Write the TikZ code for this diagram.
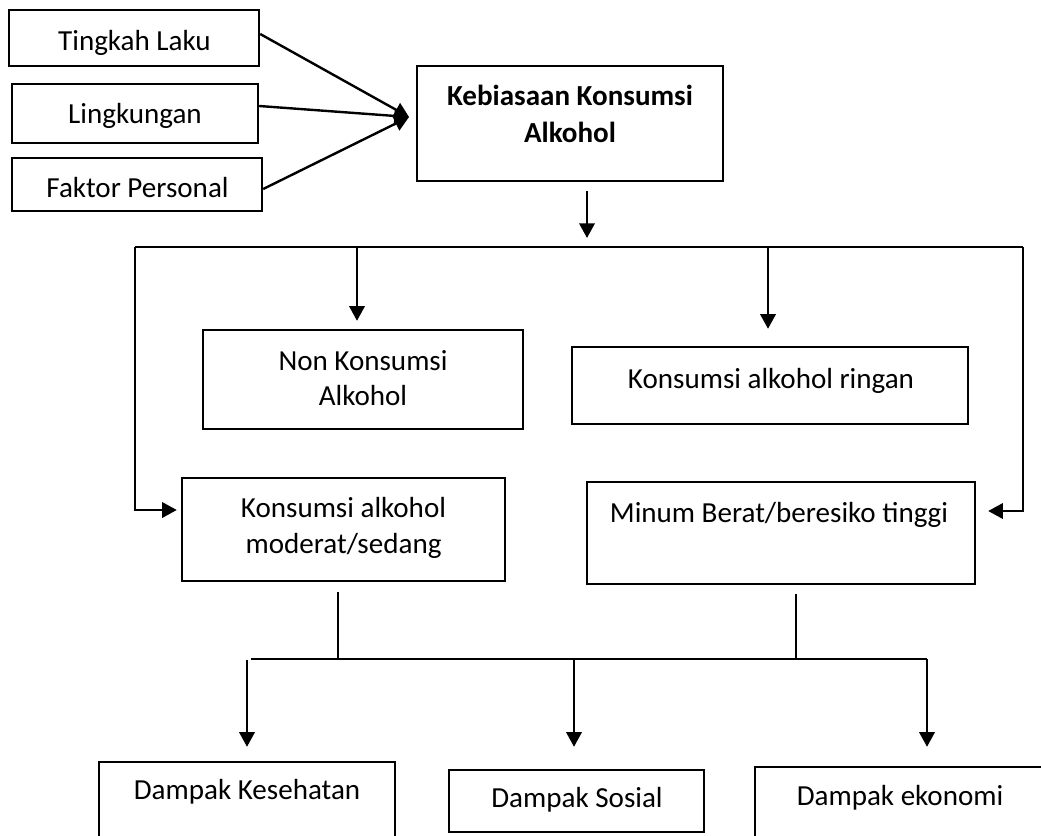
\documentclass[tikz,border=0pt]{standalone}
\usepackage{fontspec}
\setmainfont{Carlito}
\usetikzlibrary{arrows.meta,calc}
\begin{document}
\begin{tikzpicture}[x=0.75pt,y=-0.75pt,
  box/.style={draw,line width=1.8pt,inner sep=0pt,rectangle},
  txt/.style={anchor=base,inner sep=0pt,font=\fontsize{21.8}{26}\selectfont},
  btxt/.style={txt,font=\fontsize{21.8}{26}\selectfont\bfseries},
  ln/.style={line width=1.8pt},
  arr/.style={line width=1.8pt,-{Triangle[length=11pt,width=11.5pt]}}]
\useasboundingbox (0,0) rectangle (1041,835);
\clip (0,0) rectangle (1041,835);
% boxes
\node[box,minimum width=187.5pt,minimum height=42pt] (tl) at (134,38) {};
\node[box,minimum width=184.5pt,minimum height=44.25pt] (lk) at (135,113.5) {};
\node[box,minimum width=187.5pt,minimum height=39.75pt] (fp) at (137,184.5) {};
\node[box,minimum width=229.5pt,minimum height=86.25pt] (main) at (570,123.5) {};
\node[box,minimum width=240pt,minimum height=74.25pt] (nk) at (363,379.5) {};
\node[box,minimum width=297pt,minimum height=57.75pt] (rg) at (770,385.5) {};
\node[box,minimum width=242.25pt,minimum height=77.25pt] (md) at (343.5,529.5) {};
\node[box,minimum width=291pt,minimum height=76.5pt] (mb) at (781,533) {};
\node[box,minimum width=222pt,minimum height=81pt] (kes) at (247,816) {};
\node[box,minimum width=191.25pt,minimum height=46.5pt] (sos) at (576.5,801) {};
\node[box,minimum width=217.5pt,minimum height=77.25pt] (eko) at (900,818.5) {};
% texts
\node[txt] (tl-t) at (134.5,50) {Tingkah Laku};
\node[txt] (lk-t) at (135,123) {Lingkungan};
\node[txt] (fp-t) at (137.5,197) {Faktor Personal};
\node[btxt] (main-t1) at (570,105) {Kebiasaan Konsumsi};
\node[btxt] (main-t2) at (570,142) {Alkohol};
\node[txt] (nk-t1) at (363,370) {Non Konsumsi};
\node[txt] (nk-t2) at (363,405) {Alkohol};
\node[txt] (rg-t) at (771,388) {Konsumsi alkohol ringan};
\node[txt] (md-t1) at (343.5,517) {Konsumsi alkohol};
\node[txt] (md-t2) at (343.5,553) {moderat/sedang};
\node[txt] (mb-t) at (779,522) {Minum Berat/beresiko tinggi};
\node[txt] (kes-t) at (247,799) {Dampak Kesehatan};
\node[txt] (sos-t) at (577,807) {Dampak Sosial};
\node[txt] (eko-t) at (900,805) {Dampak ekonomi};
% junction coordinates
\coordinate (conv) at (409,117);
\coordinate (mainend) at (587,238);
\coordinate (hl) at (135,247);
\coordinate (hr) at (1023,247);
\coordinate (nkin) at (357,247);
\coordinate (rgin) at (768,247);
\coordinate (mdjoin) at (338,659);
\coordinate (mbjoin) at (796,659);
\coordinate (bl) at (251,659);
\coordinate (br) at (927,659);
\coordinate (kesin) at (247,660);
\coordinate (sosin) at (574,659);
% connectors
\draw[arr] ($(tl.east)+(0,-4)$) -- (conv);
\draw[arr] ($(lk.east)+(0,-7.5)$) -- (conv);
\draw[arr] ($(fp.east)+(0,4.5)$) -- (conv);
\draw[arr] ($(main.south)+(17,9)$) -- (mainend);
\draw[ln] (hl) -- (hr);
\draw[arr] (hl) |- ($(md.west)+(-4,-19.5)$);
\draw[arr] (hr) |- ($(mb.east)+(12,-22)$);
\draw[arr] (nkin) -- ($(nk.north)+(-6,-8)$);
\draw[arr] (rgin) -- ($(rg.north)+(-2,-17)$);
\draw[ln] ($(md.south)+(-5.5,10)$) -- (mdjoin);
\draw[ln] ($(mb.south)+(15,9)$) -- (mbjoin);
\draw[ln] (bl) -- (br);
\draw[arr] (kesin) -- ($(kes.north)+(0,-14)$);
\draw[arr] (sosin) -- ($(sos.north)+(-2.5,-22)$);
\draw[arr] (br) -- ($(eko.north)+(27,-19)$);
\end{tikzpicture}
\end{document}
